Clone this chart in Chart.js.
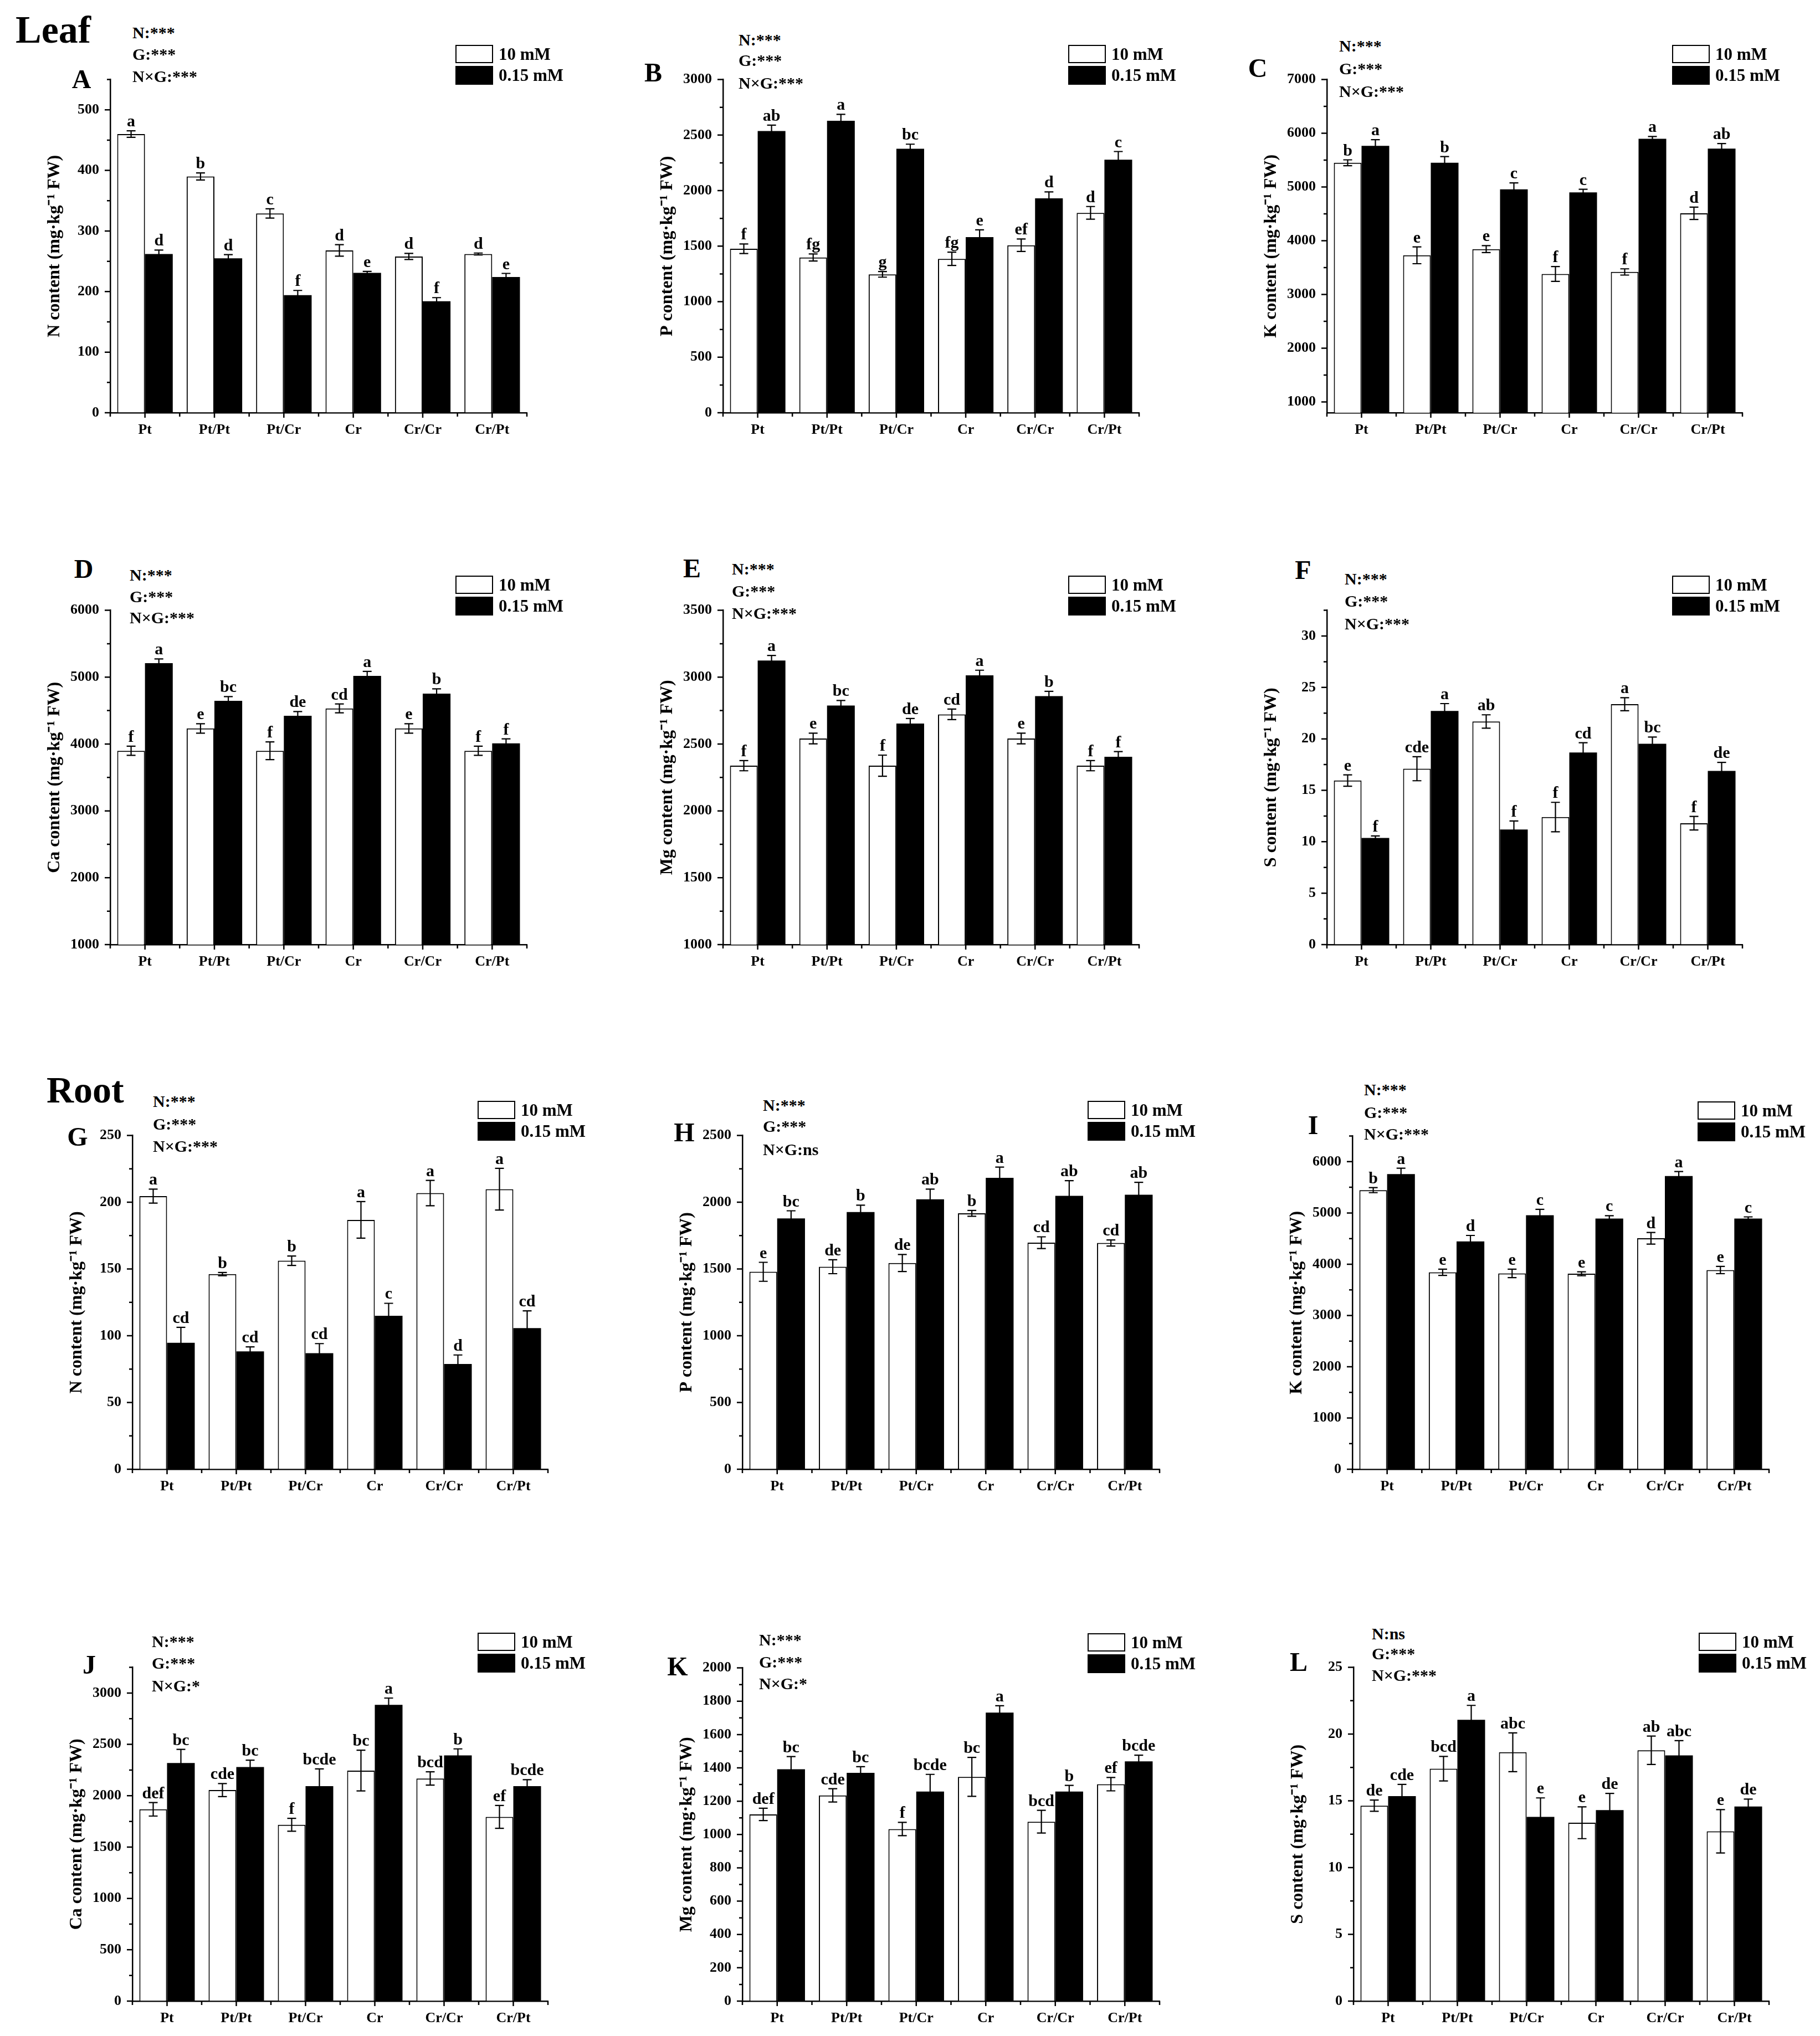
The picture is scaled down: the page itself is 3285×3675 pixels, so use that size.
<!DOCTYPE html>
<html><head><meta charset="utf-8">
<script src="https://cdn.jsdelivr.net/npm/chart.js@4.4.1/dist/chart.umd.min.js"></script>
<style>
html,body{margin:0;padding:0;background:#fff;}
body{width:3285px;height:3675px;position:relative;overflow:hidden;font-family:'Liberation Serif','Times New Roman',serif;font-weight:bold;color:#000;}
.box{position:absolute;}
.txt{position:absolute;white-space:nowrap;line-height:1;}
</style></head><body>
<script>
// ---------------- data ----------------
const categories = ['Pt','Pt/Pt','Pt/Cr','Cr','Cr/Cr','Cr/Pt'];
const seriesNames = ['10 mM','0.15 mM'];

// A  Leaf N
const leafN_10 = [460, 390, 329, 268, 258, 262];
const leafN_10err = [5.3, 5.8, 7.7, 9.5, 5, 1.6];
const leafN_015 = [262, 255, 194, 231, 184, 224];
const leafN_015err = [6.5, 6, 7.9, 2.3, 6, 6];
const leafN_10sig = ['a','b','c','d','d','d'];
const leafN_015sig = ['d','d','f','e','f','e'];
const leafN_range = [0, 550];
const leafN_ticks = [0,100,200,300,400,500];
const leafN_stats = ['N:***','G:***','N×G:***'];

// B  Leaf P
const leafP_10 = [1477, 1398, 1246, 1386, 1508, 1800];
const leafP_10err = [43, 32, 25, 60, 56, 57];
const leafP_015 = [2537, 2629, 2377, 1581, 1930, 2278];
const leafP_015err = [53, 58, 41, 66, 58, 74];
const leafP_10sig = ['f','fg','g','fg','ef','d'];
const leafP_015sig = ['ab','a','bc','e','d','c'];
const leafP_range = [0, 3000];
const leafP_ticks = [0,500,1000,1500,2000,2500,3000];
const leafP_stats = ['N:***','G:***','N×G:***'];

// C  Leaf K
const leafK_10 = [5451, 3730, 3845, 3383, 3420, 4512];
const leafK_10err = [55, 157, 65, 138, 58, 115];
const leafK_015 = [5766, 5451, 4958, 4900, 5898, 5714];
const leafK_015err = [115, 115, 120, 58, 42, 95];
const leafK_10sig = ['b','e','e','f','f','d'];
const leafK_015sig = ['a','b','c','c','a','ab'];
const leafK_range = [800, 7000];
const leafK_ticks = [1000,2000,3000,4000,5000,6000,7000];
const leafK_stats = ['N:***','G:***','N×G:***'];

// D  Leaf Ca
const leafCa_10 = [3899, 4233, 3899, 4533, 4233, 3899];
const leafCa_10err = [68, 70, 133, 66, 70, 68];
const leafCa_015 = [5210, 4647, 4423, 5019, 4753, 4009];
const leafCa_015err = [63, 63, 63, 68, 72, 68];
const leafCa_10sig = ['f','e','f','cd','e','f'];
const leafCa_015sig = ['a','bc','de','a','b','f'];
const leafCa_range = [1000, 6000];
const leafCa_ticks = [1000,2000,3000,4000,5000,6000];
const leafCa_stats = ['N:***','G:***','N×G:***'];

// E  Leaf Mg
const leafMg_10 = [2338, 2541, 2338, 2722, 2541, 2338];
const leafMg_10err = [38, 40, 79, 39, 40, 38];
const leafMg_015 = [3124, 2788, 2653, 3014, 2858, 2405];
const leafMg_015err = [38, 38, 38, 38, 36, 38];
const leafMg_10sig = ['f','e','f','cd','e','f'];
const leafMg_015sig = ['a','bc','de','a','b','f'];
const leafMg_range = [1000, 3500];
const leafMg_ticks = [1000,1500,2000,2500,3000,3500];
const leafMg_stats = ['N:***','G:***','N×G:***'];

// F  Leaf S
const leafS_10 = [15.95, 17.1, 21.69, 12.4, 23.37, 11.8];
const leafS_10err = [0.55, 1.17, 0.65, 1.43, 0.63, 0.66];
const leafS_015 = [10.37, 22.71, 11.19, 18.67, 19.52, 16.88];
const leafS_015err = [0.19, 0.72, 0.83, 0.96, 0.66, 0.83];
const leafS_10sig = ['e','cde','ab','f','a','f'];
const leafS_015sig = ['f','a','f','cd','bc','de'];
const leafS_range = [0, 32.5];
const leafS_ticks = [0,5,10,15,20,25,30];
const leafS_stats = ['N:***','G:***','N×G:***'];

// G  Root N
const rootN_10 = [204.6, 146.2, 156.2, 186.8, 206.9, 209.8];
const rootN_10err = [5.2, 1.2, 3.5, 13.7, 9.5, 15.6];
const rootN_015 = [94.7, 88.3, 86.9, 115, 78.8, 105.7];
const rootN_015err = [11.6, 3.4, 7.2, 9.3, 6.8, 12.9];
const rootN_10sig = ['a','b','b','a','a','a'];
const rootN_015sig = ['cd','cd','cd','c','d','cd'];
const rootN_range = [0, 250];
const rootN_ticks = [0,50,100,150,200,250];
const rootN_stats = ['N:***','G:***','N×G:***'];

// H  Root P
const rootP_10 = [1479, 1517, 1545, 1917, 1697, 1695];
const rootP_10err = [71, 52, 64, 22, 44, 23];
const rootP_015 = [1879, 1927, 2022, 2183, 2048, 2056];
const rootP_015err = [57, 51, 76, 80, 114, 93];
const rootP_10sig = ['e','de','de','b','cd','cd'];
const rootP_015sig = ['bc','b','ab','a','ab','ab'];
const rootP_range = [0, 2500];
const rootP_ticks = [0,500,1000,1500,2000,2500];
const rootP_stats = ['N:***','G:***','N×G:ns'];

// I  Root K
const rootK_10 = [5445, 3842, 3820, 3814, 4506, 3886];
const rootK_10err = [49, 60, 82, 38, 113, 71];
const rootK_015 = [5757, 4446, 4956, 4890, 5719, 4890];
const rootK_015err = [115, 115, 115, 55, 88, 33];
const rootK_10sig = ['b','e','e','e','d','e'];
const rootK_015sig = ['a','d','c','c','a','c'];
const rootK_range = [0, 6500];
const rootK_ticks = [0,1000,2000,3000,4000,5000,6000];
const rootK_stats = ['N:***','G:***','N×G:***'];

// J  Root Ca
const rootCa_10 = [1868, 2055, 1717, 2245, 2168, 1794];
const rootCa_10err = [66, 63, 63, 198, 65, 111];
const rootCa_015 = [2319, 2280, 2093, 2885, 2393, 2093];
const rootCa_015err = [132, 66, 168, 66, 63, 63];
const rootCa_10sig = ['def','cde','f','bc','bcd','ef'];
const rootCa_015sig = ['bc','bc','bcde','a','b','bcde'];
const rootCa_range = [0, 3250];
const rootCa_ticks = [0,500,1000,1500,2000,2500,3000];
const rootCa_stats = ['N:***','G:***','N×G:*'];

// K  Root Mg
const rootMg_10 = [1121, 1235, 1033, 1346, 1077, 1302];
const rootMg_10err = [37, 40, 40, 117, 68, 40];
const rootMg_015 = [1392, 1370, 1258, 1732, 1258, 1439];
const rootMg_015err = [76, 37, 103, 41, 37, 37];
const rootMg_10sig = ['def','cde','f','bc','bcd','ef'];
const rootMg_015sig = ['bc','bc','bcde','a','b','bcde'];
const rootMg_range = [0, 2000];
const rootMg_ticks = [0,200,400,600,800,1000,1200,1400,1600,1800,2000];
const rootMg_stats = ['N:***','G:***','N×G:*'];

// L  Root S
const rootS_10 = [14.64, 17.41, 18.64, 13.36, 18.79, 12.72];
const rootS_10err = [0.42, 0.92, 1.45, 1.19, 1.06, 1.62];
const rootS_015 = [15.36, 21.07, 13.8, 14.31, 18.41, 14.58];
const rootS_015err = [0.87, 1.08, 1.42, 1.25, 1.1, 0.55];
const rootS_10sig = ['de','bcd','abc','e','ab','e'];
const rootS_015sig = ['cde','a','e','de','abc','de'];
const rootS_range = [0, 25];
const rootS_ticks = [0,5,10,15,20,25];
const rootS_stats = ['N:ns','G:***','N×G:***'];

const titleSuffix = ' content (mg\u00B7kg\u207B\u00B9 FW)';

// ---------------- panels (data references) ----------------
const panels = [
 {key:'A', el:'N',  hi:leafN_10, hiE:leafN_10err, lo:leafN_015, loE:leafN_015err, hiS:leafN_10sig, loS:leafN_015sig, range:leafN_range, ticks:leafN_ticks, stats:leafN_stats},
 {key:'B', el:'P',  hi:leafP_10, hiE:leafP_10err, lo:leafP_015, loE:leafP_015err, hiS:leafP_10sig, loS:leafP_015sig, range:leafP_range, ticks:leafP_ticks, stats:leafP_stats},
 {key:'C', el:'K',  hi:leafK_10, hiE:leafK_10err, lo:leafK_015, loE:leafK_015err, hiS:leafK_10sig, loS:leafK_015sig, range:leafK_range, ticks:leafK_ticks, stats:leafK_stats},
 {key:'D', el:'Ca', hi:leafCa_10, hiE:leafCa_10err, lo:leafCa_015, loE:leafCa_015err, hiS:leafCa_10sig, loS:leafCa_015sig, range:leafCa_range, ticks:leafCa_ticks, stats:leafCa_stats},
 {key:'E', el:'Mg', hi:leafMg_10, hiE:leafMg_10err, lo:leafMg_015, loE:leafMg_015err, hiS:leafMg_10sig, loS:leafMg_015sig, range:leafMg_range, ticks:leafMg_ticks, stats:leafMg_stats},
 {key:'F', el:'S',  hi:leafS_10, hiE:leafS_10err, lo:leafS_015, loE:leafS_015err, hiS:leafS_10sig, loS:leafS_015sig, range:leafS_range, ticks:leafS_ticks, stats:leafS_stats},
 {key:'G', el:'N',  hi:rootN_10, hiE:rootN_10err, lo:rootN_015, loE:rootN_015err, hiS:rootN_10sig, loS:rootN_015sig, range:rootN_range, ticks:rootN_ticks, stats:rootN_stats},
 {key:'H', el:'P',  hi:rootP_10, hiE:rootP_10err, lo:rootP_015, loE:rootP_015err, hiS:rootP_10sig, loS:rootP_015sig, range:rootP_range, ticks:rootP_ticks, stats:rootP_stats},
 {key:'I', el:'K',  hi:rootK_10, hiE:rootK_10err, lo:rootK_015, loE:rootK_015err, hiS:rootK_10sig, loS:rootK_015sig, range:rootK_range, ticks:rootK_ticks, stats:rootK_stats},
 {key:'J', el:'Ca', hi:rootCa_10, hiE:rootCa_10err, lo:rootCa_015, loE:rootCa_015err, hiS:rootCa_10sig, loS:rootCa_015sig, range:rootCa_range, ticks:rootCa_ticks, stats:rootCa_stats},
 {key:'K', el:'Mg', hi:rootMg_10, hiE:rootMg_10err, lo:rootMg_015, loE:rootMg_015err, hiS:rootMg_10sig, loS:rootMg_015sig, range:rootMg_range, ticks:rootMg_ticks, stats:rootMg_stats},
 {key:'L', el:'S',  hi:rootS_10, hiE:rootS_10err, lo:rootS_015, loE:rootS_015err, hiS:rootS_10sig, loS:rootS_015sig, range:rootS_range, ticks:rootS_ticks, stats:rootS_stats}
];

// ---------------- layout (page pixels) ----------------
const layout = {
 A:{L:199, R:951, T:138, B:745, letter:[147,143], sx:239, sy:[59,98,138]},
 B:{L:1305,R:2056,T:138, B:745, letter:[1179,131], sx:1333,sy:[72,109,150]},
 C:{L:2395,R:3145,T:138, B:745, letter:[2270,123], sx:2417,sy:[83,124,165]},
 D:{L:199, R:951, T:1096,B:1705,letter:[151,1027], sx:234, sy:[1038,1077,1115]},
 E:{L:1305,R:2056,T:1096,B:1705,letter:[1249,1026],sx:1321,sy:[1027,1067,1107]},
 F:{L:2395,R:3145,T:1096,B:1705,letter:[2352,1029],sx:2427,sy:[1045,1085,1126]},
 G:{L:239, R:989, T:2044,B:2652,letter:[140,2052], sx:276, sy:[1988,2029,2069]},
 H:{L:1340,R:2093,T:2044,B:2652,letter:[1235,2044],sx:1377,sy:[1995,2033,2075]},
 I:{L:2441,R:3193,T:2045,B:2652,letter:[2370,2031],sx:2462,sy:[1967,2008,2047]},
 J:{L:239, R:989, T:3004,B:3612,letter:[161,3005], sx:274, sy:[2963,3002,3043]},
 K:{L:1340,R:2093,T:3005,B:3612,letter:[1223,3008],sx:1370,sy:[2960,3000,3039]},
 L:{L:2443,R:3193,T:3004,B:3612,letter:[2344,3000],sx:2476,sy:[2949,2985,3024]}
};

const FONT = "'Liberation Serif','Times New Roman',serif";
const Wy = 150, padTop = 30, padRight = 30, Hx = 60;

function addText(txt, left, top, size, extra){
  const d = document.createElement('div');
  d.className = 'txt';
  d.textContent = txt;
  d.style.left = left + 'px';
  d.style.top = top + 'px';
  d.style.fontSize = size + 'px';
  if (extra) Object.assign(d.style, extra);
  document.body.appendChild(d);
  return d;
}
function addBox(left, top, w, h, bg, border){
  const d = document.createElement('div');
  d.className = 'box';
  Object.assign(d.style, {left:left+'px', top:top+'px', width:w+'px', height:h+'px', background:bg, boxSizing:'border-box', border:border||'none'});
  document.body.appendChild(d);
}
function minorsOf(ticks, lo, hi){
  const s = ticks[1] - ticks[0], out = [];
  for (let v = ticks[0] - s/2; v <= hi + 1e-9; v += s) { if (v >= lo - 1e-9) out.push(v); }
  return out;
}

function decorPlugin(p){
  return {
    id: 'decor' + p.key,
    afterDatasetsDraw(chart){
      const ctx = chart.ctx, ys = chart.scales.y;
      ctx.save();
      chart.data.datasets.forEach((ds, di) => {
        const meta = chart.getDatasetMeta(di);
        meta.data.forEach((bar, i) => {
          const v = ds.data[i], e = ds.err[i];
          const yt = ys.getPixelForValue(v + e), yb = ys.getPixelForValue(v - e);
          const x = bar.x;
          ctx.strokeStyle = '#000'; ctx.lineWidth = 2.2;
          ctx.beginPath();
          ctx.moveTo(x, yt); ctx.lineTo(x, yb);
          ctx.moveTo(x - 8, yt); ctx.lineTo(x + 8, yt);
          ctx.moveTo(x - 8, yb); ctx.lineTo(x + 8, yb);
          ctx.stroke();
          ctx.fillStyle = '#000';
          ctx.font = 'bold 30px ' + FONT;
          ctx.textAlign = 'center';
          ctx.textBaseline = 'alphabetic';
          ctx.fillText(ds.sig[i], x, yt - 8);
        });
      });
      ctx.restore();
    },
    afterDraw(chart){
      const ctx = chart.ctx, ys = chart.scales.y, xs = chart.scales.x, ca = chart.chartArea;
      ctx.save();
      ctx.strokeStyle = '#000'; ctx.lineWidth = 2.5;
      ctx.beginPath();
      p.ticks.forEach(v => { const y = ys.getPixelForValue(v); ctx.moveTo(ca.left, y); ctx.lineTo(ca.left - 10, y); });
      minorsOf(p.ticks, p.range[0], p.range[1]).forEach(v => { const y = ys.getPixelForValue(v); ctx.moveTo(ca.left, y); ctx.lineTo(ca.left - 6, y); });
      const n = categories.length;
      for (let i = 0; i <= n; i++) { const x = xs.getPixelForValue(i - 0.5); ctx.moveTo(x, ca.bottom); ctx.lineTo(x, ca.bottom + 7); }
      for (let i = 0; i < n; i++) { const x = xs.getPixelForValue(i); ctx.moveTo(x, ca.bottom); ctx.lineTo(x, ca.bottom + 9); }
      ctx.stroke();
      ctx.restore();
    }
  };
}

function makePanel(p){
  const g = layout[p.key];
  const w = Wy + (g.R - g.L) + padRight;
  const h = padTop + (g.B - g.T) + Hx;
  const div = document.createElement('div');
  div.className = 'box';
  Object.assign(div.style, {left:(g.L - Wy)+'px', top:(g.T - padTop)+'px', width:w+'px', height:h+'px'});
  const c = document.createElement('canvas');
  c.width = w; c.height = h; c.style.width = w+'px'; c.style.height = h+'px';
  div.appendChild(c);
  document.body.appendChild(div);

  new Chart(c, {
    type: 'bar',
    data: {
      labels: categories,
      datasets: [
        {label: seriesNames[0], data: p.hi, err: p.hiE, sig: p.hiS, backgroundColor:'#fff', borderColor:'#000', borderWidth:2, borderSkipped:'bottom'},
        {label: seriesNames[1], data: p.lo, err: p.loE, sig: p.loS, backgroundColor:'#000', borderColor:'#000', borderWidth:0}
      ]
    },
    options: {
      responsive: false, animation: false, devicePixelRatio: 1,
      layout: {padding: {top: padTop, right: padRight, left: 0, bottom: 0}},
      datasets: {bar: {barPercentage: 1.0, categoryPercentage: 0.8}},
      plugins: {legend: {display: false}, tooltip: {enabled: false}},
      scales: {
        x: {
          grid: {display: true, drawOnChartArea: false, drawTicks: false},
          border: {display: true, color: '#000', width: 2.5},
          ticks: {color: '#000', font: {family: FONT, size: 26, weight: 'bold'}, padding: 16, maxRotation: 0, autoSkip: false},
          afterFit(s){ s.height = Hx; }
        },
        y: {
          min: p.range[0], max: p.range[1],
          afterBuildTicks(s){ s.ticks = p.ticks.map(v => ({value: v})); },
          grid: {display: true, drawOnChartArea: false, drawTicks: false},
          border: {display: true, color: '#000', width: 2.5},
          ticks: {color: '#000', font: {family: FONT, size: 26, weight: 'bold'}, padding: 20, callback: v => String(v)},
          title: {display: true, text: p.el + titleSuffix, color: '#000', font: {family: FONT, size: 32, weight: 'bold'}, padding: {top: 31, bottom: 0}},
          afterFit(s){ s.width = Wy; }
        }
      }
    },
    plugins: [decorPlugin(p)]
  });

  // panel letter
  addText(p.key, g.letter[0], g.letter[1] - 0.506*48, 48, {transform:'translateX(-50%)'});
  // statistics
  p.stats.forEach((t, i) => addText(t, g.sx, g.sy[i] - 0.506*30, 30));
  // legend
  const lx = g.L + 623, ly = g.T - 57;
  addBox(lx, ly, 68, 33, '#fff', '2px solid #000');
  addBox(lx, ly + 38, 68, 34, '#000');
  addText(seriesNames[0], lx + 78, ly + 16.5 - 0.506*31, 31);
  addText(seriesNames[1], lx + 78, ly + 55 - 0.506*31, 31);
}

addText('Leaf', 28, 54 - 0.506*70, 70);
addText('Root', 84, 1967 - 0.506*68, 68);
panels.forEach(makePanel);
</script>
</body></html>
